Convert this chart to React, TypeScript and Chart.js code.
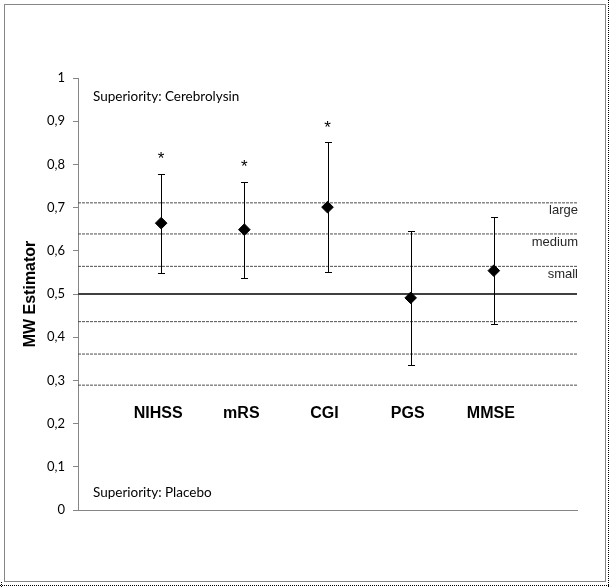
import React, { useEffect, useRef } from 'react';
import { Chart, registerables } from 'chart.js';

Chart.register(...registerables);

// ---- data ----
const categories = ['NIHSS', 'mRS', 'CGI', 'PGS', 'MMSE'];
const categoryX = [1, 2, 3, 4, 5];
const estimates = [0.664, 0.649, 0.701, 0.491, 0.554];
const ciLower = [0.548, 0.538, 0.551, 0.336, 0.431];
const ciUpper = [0.778, 0.76, 0.851, 0.646, 0.678];
const significant = [true, true, true, false, false];
const effectThresholds = [0.711, 0.639, 0.564, 0.436, 0.361, 0.289];
const effectLabels = ['large', 'medium', 'small'];
const nullValue = 0.5;
const yTickLabels = ['0', '0,1', '0,2', '0,3', '0,4', '0,5', '0,6', '0,7', '0,8', '0,9', '1'];
const superiorityTop = 'Superiority: Cerebrolysin';
const superiorityBottom = 'Superiority: Placebo';
const yAxisTitle = 'MW Estimator';

// ---- layout constants ----
const X_MIN = 0;
const X_MAX = 6;
const CATEGORY_LABEL_Y = 0.223;
const SUP_TOP_Y = 0.956;
const SUP_BOTTOM_Y = 0.04;
const SUP_X = 0.18;

const calibriLike = 'Lato, "Open Sans", sans-serif';
const arialLike = '"Liberation Sans", Arial, sans-serif';

const decorPlugin = {
  id: 'decor',
  beforeDraw(chart: any) {
    const ctx = chart.ctx;
    ctx.save();
    ctx.fillStyle = '#ffffff';
    ctx.fillRect(0, 0, chart.width, chart.height);
    ctx.strokeStyle = '#868686';
    ctx.lineWidth = 1;
    ctx.strokeRect(4.5, 4.5, 601, 577);
    ctx.strokeStyle = '#000000';
    ctx.setLineDash([1, 1]);
    ctx.beginPath();
    ctx.moveTo(608.5, 0);
    ctx.lineTo(608.5, 588);
    ctx.moveTo(0, 585.5);
    ctx.lineTo(609, 585.5);
    ctx.moveTo(1.5, 582);
    ctx.lineTo(1.5, 588);
    ctx.stroke();
    ctx.restore();
  },
  beforeDatasetDraw(chart: any, args: any) {
    if (args.index !== 0) return;
    const ctx = chart.ctx;
    const xs = chart.scales.x;
    const ys = chart.scales.y;
    ctx.save();
    ctx.strokeStyle = '#000000';
    ctx.lineWidth = 1;
    ctx.setLineDash([]);
    for (let i = 0; i < categoryX.length; i++) {
      const x = Math.round(xs.getPixelForValue(categoryX[i])) + 0.5;
      const yl = Math.round(ys.getPixelForValue(ciLower[i])) + 0.5;
      const yu = Math.round(ys.getPixelForValue(ciUpper[i])) + 0.5;
      ctx.beginPath();
      ctx.moveTo(x, yu);
      ctx.lineTo(x, yl);
      ctx.moveTo(x - 3.5, yu);
      ctx.lineTo(x + 3.5, yu);
      ctx.moveTo(x - 3.5, yl);
      ctx.lineTo(x + 3.5, yl);
      ctx.stroke();
    }
    ctx.restore();
  },
  afterDraw(chart: any) {
    const ctx = chart.ctx;
    const xs = chart.scales.x;
    const ys = chart.scales.y;
    const area = chart.chartArea;
    ctx.save();
    // asterisks
    ctx.fillStyle = '#000000';
    ctx.font = '17px ' + arialLike;
    ctx.textAlign = 'center';
    ctx.textBaseline = 'alphabetic';
    for (let i = 0; i < categoryX.length; i++) {
      if (!significant[i]) continue;
      const x = xs.getPixelForValue(categoryX[i]);
      const y = ys.getPixelForValue(ciUpper[i]);
      ctx.fillText('*', x, y - 19.5 + 10);
    }
    // category labels
    ctx.font = 'bold 16px ' + arialLike;
    ctx.textBaseline = 'middle';
    for (let i = 0; i < categories.length; i++) {
      const x = xs.getPixelForValue(categoryX[i]) - 3;
      ctx.fillText(categories[i], x, ys.getPixelForValue(CATEGORY_LABEL_Y));
    }
    // superiority notes
    ctx.font = '13.5px ' + calibriLike;
    ctx.textAlign = 'left';
    ctx.fillText(superiorityTop, xs.getPixelForValue(SUP_X), ys.getPixelForValue(SUP_TOP_Y));
    ctx.fillText(superiorityBottom, xs.getPixelForValue(SUP_X), ys.getPixelForValue(SUP_BOTTOM_Y));
    // effect size labels
    ctx.font = '13px ' + arialLike;
    ctx.fillStyle = '#262626';
    ctx.textAlign = 'right';
    for (let i = 0; i < effectLabels.length; i++) {
      ctx.fillText(effectLabels[i], area.right + 1, ys.getPixelForValue(effectThresholds[i]) + 8);
    }
    ctx.restore();
  },
};

export default function App() {
  const ref = useRef<HTMLCanvasElement>(null);
  useEffect(() => {
    document.body.style.margin = '0';
    const lineDatasets = effectThresholds.map((t) => ({
      data: [
        { x: X_MIN, y: t },
        { x: X_MAX, y: t },
      ],
      showLine: true,
      pointRadius: 0,
      borderColor: '#4d4d4d',
      borderWidth: 1,
      borderDash: [3, 1],
    }));
    const chart = new Chart(ref.current as HTMLCanvasElement, {
      type: 'scatter',
      data: {
        datasets: [
          {
            data: categoryX.map((x, i) => ({ x, y: estimates[i] })),
            pointStyle: 'rectRot',
            pointRadius: 5.8,
            borderWidth: 1,
            backgroundColor: '#000000',
            borderColor: '#000000',
          } as any,
          {
            data: [
              { x: X_MIN, y: nullValue },
              { x: X_MAX, y: nullValue },
            ],
            showLine: true,
            pointRadius: 0,
            borderColor: '#404040',
            borderWidth: 2,
          },
          ...lineDatasets,
        ],
      },
      options: {
        responsive: false,
        animation: false,
        devicePixelRatio: 1,
        layout: { padding: { left: 0, top: 78, right: 35, bottom: 78 } },
        plugins: { legend: { display: false }, tooltip: { enabled: false } },
        events: [],
        scales: {
          x: {
            type: 'linear',
            min: X_MIN,
            max: X_MAX,
            ticks: { display: false },
            grid: { display: true, drawOnChartArea: false, drawTicks: false },
            border: { display: true, color: '#868686', width: 1 },
            afterFit: (s: any) => {
              s.height = 0;
            },
          },
          y: {
            min: 0,
            max: 1,
            ticks: {
              stepSize: 0.1,
              padding: 8,
              color: '#000000',
              font: { family: calibriLike, size: 13 },
              callback: (_v: any, i: number) => yTickLabels[i],
            },
            grid: {
              display: true,
              drawOnChartArea: false,
              drawTicks: true,
              tickLength: 5,
              color: '#868686',
            },
            border: { display: true, color: '#868686', width: 1 },
            title: {
              display: true,
              text: yAxisTitle,
              color: '#000000',
              font: { family: arialLike, size: 16, weight: 'bold' },
              padding: { top: 21, bottom: 0 },
            },
            afterFit: (s: any) => {
              s.width = 78;
            },
          },
        },
      },
      plugins: [decorPlugin],
    } as any);
    return () => chart.destroy();
  }, []);
  return (
    <div style={{ position: 'fixed', left: 0, top: 0, width: 612, height: 588 }}>
      <canvas ref={ref} width={612} height={588} style={{ display: 'block' }} />
    </div>
  );
}
